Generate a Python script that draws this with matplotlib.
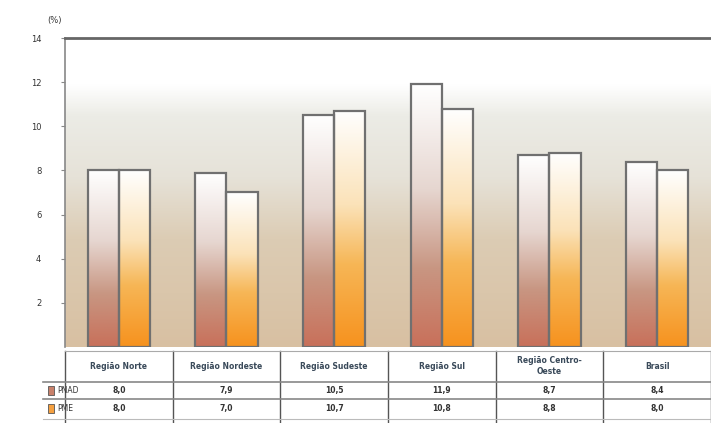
import numpy as np
import matplotlib
matplotlib.use("Agg")
import matplotlib.pyplot as plt
from matplotlib.colors import LinearSegmentedColormap

# dados
regioes = ["Região Norte", "Região Nordeste", "Região Sudeste", "Região Sul",
           "Região Centro-\nOeste", "Brasil"]
serie_a = [8.0, 7.9, 10.5, 11.9, 8.7, 8.4]
serie_b = [8.0, 7.0, 10.7, 10.8, 8.8, 8.0]
nome_a = "PNAD"
nome_b = "PME"
y_ticks = [2, 4, 6, 8, 10, 12, 14]

fig = plt.figure(figsize=(7.11, 4.23), dpi=100)
ax = fig.add_axes([0.0914, 0.180, 0.9086, 0.730])

n = len(regioes)
x = np.arange(n)
w = 0.29
ax.set_xlim(-0.5, n - 0.5)
ax.set_ylim(0, 14)

# fundo em gradiente (branco -> cinza -> bege)
bg = LinearSegmentedColormap.from_list(
    "bg", [(0.0, "#d8c0a2"), (0.35, "#dcccb4"), (0.55, "#e6e2d8"),
           (0.75, "#ecece6"), (0.85, "#ffffff"), (1.0, "#ffffff")])
ax.imshow(np.linspace(0, 1, 256).reshape(-1, 1), cmap=bg, aspect="auto",
          extent=(-0.5, n - 0.5, 0, 14), origin="lower", zorder=0)

cm_a = LinearSegmentedColormap.from_list(
    "a", [(0.0, "#c8705a"), (0.3, "#c89682"), (0.6, "#e6d6d0"), (1.0, "#ffffff")])
cm_b = LinearSegmentedColormap.from_list(
    "b", [(0.0, "#f7921e"), (0.35, "#f6b656"), (0.6, "#fbe2b8"), (1.0, "#ffffff")])

bars_a = ax.bar(x - w / 2, serie_a, w, facecolor="none", edgecolor="#707070",
                linewidth=1.6, zorder=3)
bars_b = ax.bar(x + w / 2, serie_b, w, facecolor="none", edgecolor="#707070",
                linewidth=1.6, zorder=3)

grad = np.linspace(0, 1, 256).reshape(-1, 1)
for bars, cm in ((bars_a, cm_a), (bars_b, cm_b)):
    for b in bars:
        x0, h = b.get_x(), b.get_height()
        ax.imshow(grad, cmap=cm, aspect="auto", origin="lower",
                  extent=(x0, x0 + b.get_width(), 0, h), zorder=2)

ax.set_xlim(-0.5, n - 0.5)
ax.set_ylim(0, 14)
ax.set_xticks([])
ax.set_yticks(y_ticks)
ax.set_yticklabels([str(t) for t in y_ticks], fontsize=6, color="#333333")
ax.tick_params(axis="y", length=3, color="#888888", pad=14)
for s in ("right", "bottom"):
    ax.spines[s].set_visible(False)
ax.spines["left"].set_color("#888888")
ax.spines["left"].set_linewidth(1.2)
ax.spines["top"].set_color("#666666")
ax.spines["top"].set_linewidth(2.0)
fig.text(0.077, 0.945, "(%)", fontsize=6, color="#333333", ha="center")

# tabela de dados
tab = fig.add_axes([0.0, 0.0, 1.0, 0.175])
tab.set_xlim(-0.5 - 0.0914 / 0.9086 * n, n - 0.5)
tab.set_ylim(0, 1)
tab.axis("off")
left = tab.get_xlim()[0]
y_hdr_top, y_hdr_bot, y_r1, y_r2 = 0.97, 0.56, 0.33, 0.10
for i in range(n + 1):
    tab.plot([i - 0.5, i - 0.5], [0.0, y_hdr_top], color="#555555", lw=1.0)
tab.plot([-0.5, n - 0.5], [y_hdr_top, y_hdr_top], color="#aaaaaa", lw=0.8)
tab.plot([left + 0.4, n - 0.5], [y_hdr_bot, y_hdr_bot], color="#888888", lw=1.2)
tab.plot([left + 0.4, n - 0.5], [y_r1 - 0.005, y_r1 - 0.005], color="#888888", lw=1.2)
tab.plot([left + 0.4, n - 0.5], [0.05, 0.05], color="#bbbbbb", lw=0.8)
for i, nome in enumerate(regioes):
    tab.text(i, (y_hdr_top + y_hdr_bot) / 2, nome, ha="center", va="center",
             fontsize=5.5, fontweight="bold", color="#3a4a5a", linespacing=1.3)
    tab.text(i, (y_hdr_bot + y_r1) / 2, f"{serie_a[i]:.1f}".replace(".", ","),
             ha="center", va="center", fontsize=5.5, fontweight="bold", color="#333333")
    tab.text(i, (y_r1 + 0.05) / 2, f"{serie_b[i]:.1f}".replace(".", ","),
             ha="center", va="center", fontsize=5.5, fontweight="bold", color="#333333")
for yy, nome, cor in (((y_hdr_bot + y_r1) / 2, nome_a, "#c8806a"),
                      ((y_r1 + 0.05) / 2, nome_b, "#f5a040")):
    tab.add_patch(plt.Rectangle((left + 0.45, yy - 0.06), 0.05, 0.12,
                                facecolor=cor, edgecolor="#555555", lw=0.6))
    tab.text(left + 0.53, yy, nome, ha="left", va="center", fontsize=5.5,
             color="#333333")

fig.savefig("out.png", dpi=100)
